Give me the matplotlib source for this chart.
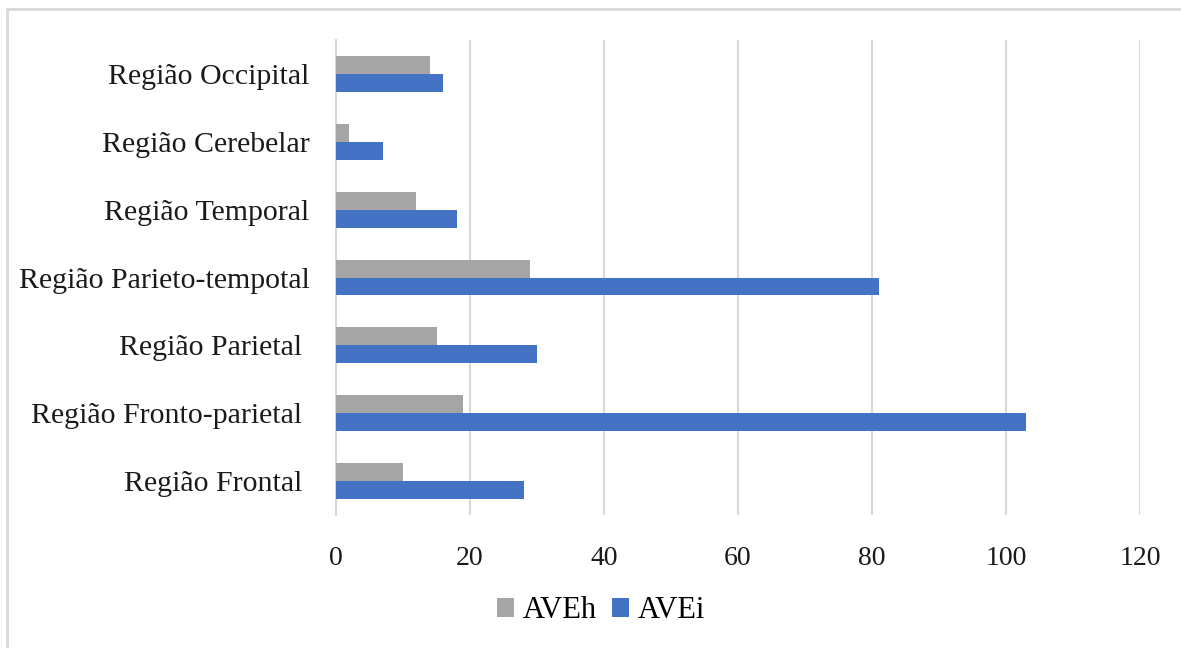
import matplotlib.pyplot as plt
from matplotlib.patches import Rectangle

# brain regions, bottom to top as drawn
regions = [
    "Região Frontal ",
    "Região Fronto-parietal ",
    "Região Parietal ",
    "Região Parieto-tempotal",
    "Região Temporal",
    "Região Cerebelar",
    "Região Occipital",
]
aveh = [10, 19, 15, 29, 12, 2, 14]
avei = [28, 103, 30, 81, 18, 7, 16]
xticks = [0, 20, 40, 60, 80, 100, 120]

plt.rcParams['font.family'] = ['Liberation Serif', 'DejaVu Serif']

fig = plt.figure(figsize=(11.81, 6.48), dpi=100)
ax = fig.add_axes([336 / 1181, 1 - 515 / 648, (1140 - 336) / 1181, 475 / 648])

pos = list(range(len(regions)))
h = 0.265
ax.barh([p + h / 2 for p in pos], aveh, height=h, color='#A5A5A5', label='AVEh', zorder=3)
ax.barh([p - h / 2 for p in pos], avei, height=h, color='#4472C4', label='AVEi', zorder=3)

ax.set_xlim(0, 120)
ax.set_ylim(-0.5, len(regions) - 0.5)
ax.set_xticks(xticks)
ax.set_xticklabels([str(t) for t in xticks])
ax.set_yticks(pos)
ax.set_yticklabels(regions)
ax.tick_params(axis='both', length=0, colors='#1a1a1a')
ax.tick_params(axis='x', pad=22, labelsize=20)
ax.tick_params(axis='y', pad=19, labelsize=21.5)
ax.grid(axis='x', color='#D9D9D9', linewidth=1.5, zorder=0)
for side in ['top', 'right', 'bottom']:
    ax.spines[side].set_visible(False)
ax.spines['left'].set_color('#D9D9D9')
ax.spines['left'].set_linewidth(1.5)

fig.legend(loc='center', bbox_to_anchor=(0.509, 1 - 611 / 648), ncol=2, frameon=False,
           fontsize=22, handlelength=0.55, handleheight=0.55, handletextpad=0.3,
           columnspacing=0.5)

# chart frame
fig.patches.append(Rectangle((7 / 1181, -0.1), 1.2, 1 - 9 / 648 + 0.1,
                             transform=fig.transFigure, fill=False,
                             edgecolor='#D9D9D9', linewidth=2))

fig.savefig('out.png', dpi=100, facecolor='white')
